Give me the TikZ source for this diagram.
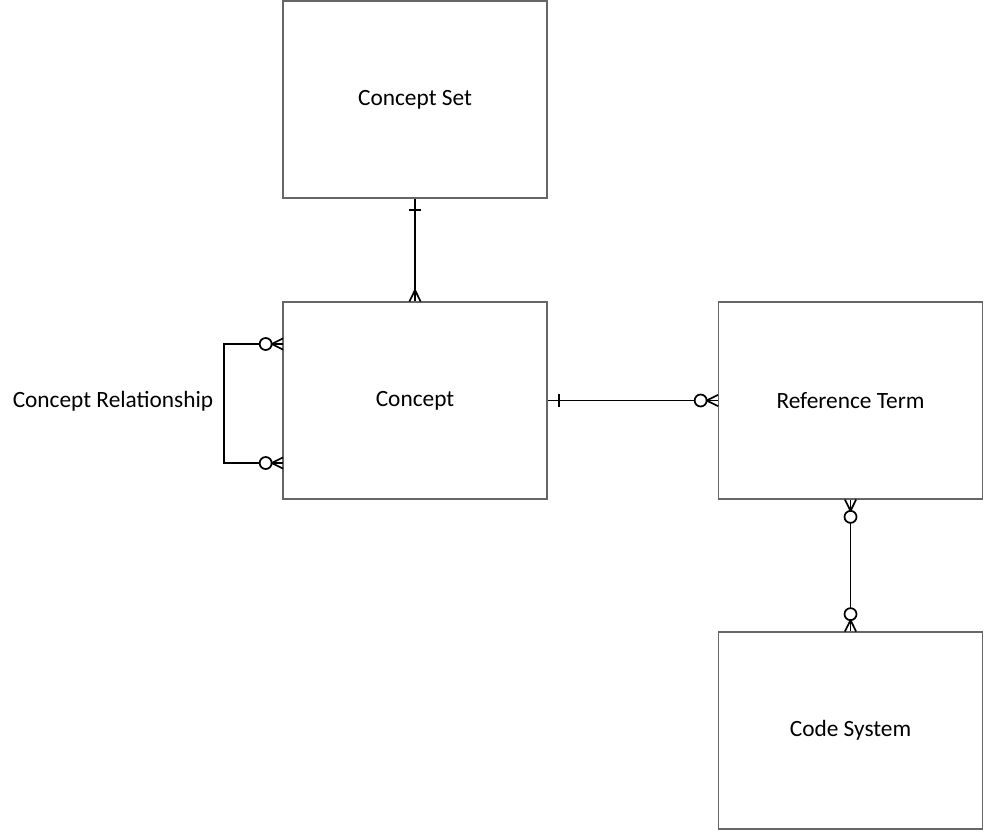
\documentclass[tikz,border=0pt]{standalone}
\usepackage{fontspec}
\setmainfont{Carlito}
\usetikzlibrary{decorations.markings}

\tikzset{
  entity/.style={rectangle, draw=black!60, line width=0.8pt, minimum width=198pt, minimum height=147.75pt},
  link/.style={draw=black, line width=1.4pt},
  % crow's foot notation
  one start/.style={postaction={decorate, decoration={markings, mark=at position 8.5pt with {\draw[line width=1.3pt] (0,-4.8pt) -- (0,4.8pt);}}}},
  many end/.style={postaction={decorate, decoration={markings, mark=at position 1 with {\draw[line width=1.3pt] (-8.5pt,0) -- (0,4.2pt) (-8.5pt,0) -- (0,-4.2pt);}}}},
  zero many end/.style={postaction={decorate, decoration={markings, mark=at position 1 with {\draw[line width=1.3pt] (-8.5pt,0) -- (0,4.2pt) (-8.5pt,0) -- (0,-4.2pt); \draw[line width=1.3pt, fill=white] (-13pt,0) circle (4.5pt);}}}},
  zero many start/.style={postaction={decorate, decoration={markings, mark=at position 0 with {\draw[line width=1.3pt] (8.5pt,0) -- (0,4.2pt) (8.5pt,0) -- (0,-4.2pt); \draw[line width=1.3pt, fill=white] (13pt,0) circle (4.5pt);}}}}
}

\begin{document}
\begin{tikzpicture}[x=0.75pt, y=-0.75pt, font=\fontsize{17.5}{20}\selectfont]

\useasboundingbox (0,0) rectangle (984,831);

\node(set) [entity] at (415,99.5) {Concept Set};
\node(concept) [entity] at (415,400.5) {Concept};
\node(term) [entity] at (850.5,400.5) {Reference Term};
\node(codes) [entity] at (850.5,730.5) {Code System};
\node(rel) at (113,401) {Concept Relationship};

% self relation of concept
\coordinate (relA) at (283,344);
\coordinate (relB) at (283,463);
\coordinate (loopA) at (224,344);
\coordinate (loopB) at (224,463);

\draw [link, one start, many end] (set) -- (concept);
\draw [link, one start, zero many end] (concept) -- (term);
\draw [link, zero many start, zero many end] (term) -- (codes);
\draw [link, zero many start, zero many end] (relA) -- (loopA) -- (loopB) -- (relB);

\end{tikzpicture}
\end{document}
